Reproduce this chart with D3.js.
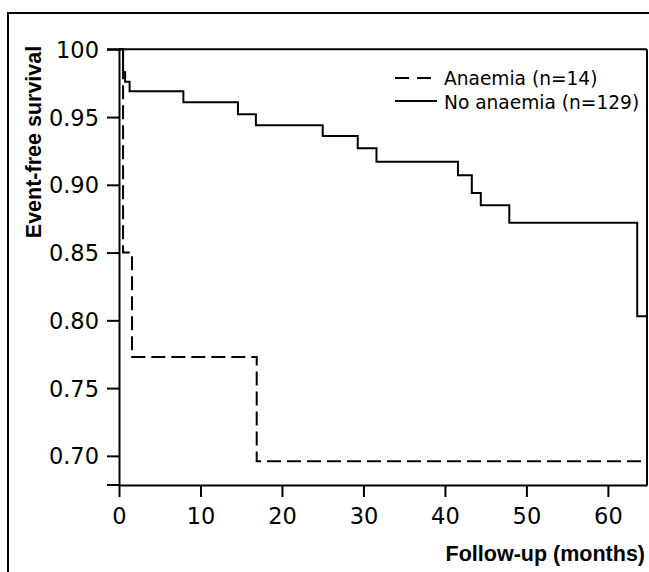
<!DOCTYPE html>
<html>
<head>
    <meta charset="utf-8">
    <title>Event-free survival</title>
    <style>
        body { margin: 0; background: #fff; }
        .tick text { font-family: "DejaVu Sans", sans-serif; font-size: 22.5px; fill: #000; }
        .legend text { font-family: "DejaVu Sans", sans-serif; font-size: 18.6px; fill: #000; }
        .title { font-family: "Liberation Sans", Arial, sans-serif; font-weight: bold; font-size: 21.5px; fill: #000; }
    </style>
</head>
<body>
<script src="https://cdnjs.cloudflare.com/ajax/libs/d3/7.8.5/d3.min.js"></script>
<script>
    // Kaplan-Meier steps (months, survival)
    const anaemiaTimes = [0, 0.5, 1.6, 16.9];
    const anaemiaSurv = [1.0, 0.850, 0.773, 0.696];
    const noAnaemiaTimes = [0, 0.5, 0.75, 1.3, 7.9, 14.6, 16.8, 25.0, 29.3, 31.6, 41.6, 43.3, 44.4, 47.9, 63.6];
    const noAnaemiaSurv = [1.0, 0.983, 0.976, 0.969, 0.961, 0.952, 0.944, 0.936, 0.927, 0.917, 0.907, 0.894, 0.885, 0.872, 0.803];
    const xTicks = [0, 10, 20, 30, 40, 50, 60];
    const yTicks = [0.70, 0.75, 0.80, 0.85, 0.90, 0.95, 1.00];
    const seriesNames = ["Anaemia (n=14)", "No anaemia (n=129)"];

    const W = 649, H = 572;
    const plotLeft = 119, plotRight = 647, plotTop = 49.3, plotBottom = 485;
    const xMax = 64.8;

    const svg = d3.select("body").append("svg")
        .attr("width", W)
        .attr("height", H);

    // outer frame
    svg.append("rect")
        .attr("x", 8).attr("y", 13)
        .attr("width", W + 10).attr("height", H + 10)
        .attr("fill", "none").attr("stroke", "#000").attr("stroke-width", 2);

    const x = d3.scaleLinear().domain([0, xMax]).range([plotLeft, plotRight]);
    const y = d3.scaleLinear().domain([0.6785, 1.0]).range([plotBottom, plotTop]);

    // y axis
    const yAxis = svg.append("g")
        .attr("transform", `translate(${plotLeft},0)`)
        .call(d3.axisLeft(y).tickValues(yTicks)
            .tickFormat(d => d === 1 ? "100" : d3.format(".2f")(d))
            .tickSize(12).tickPadding(8).tickSizeOuter(0));
    yAxis.selectAll("line, path").attr("stroke", "#000").attr("stroke-width", 2);
    yAxis.selectAll("text").attr("dy", "0.36em");

    // x axis
    const xAxis = svg.append("g")
        .attr("transform", `translate(0,${plotBottom})`)
        .call(d3.axisBottom(x).tickValues(xTicks)
            .tickSize(12).tickPadding(11).tickSizeOuter(0));
    xAxis.selectAll("line, path").attr("stroke", "#000").attr("stroke-width", 2);

    // plot frame: top, right, and extension of bottom to the left
    const frame = svg.append("g").attr("stroke", "#000").attr("stroke-width", 2);
    frame.append("line").attr("x1", plotLeft - 12).attr("x2", plotRight).attr("y1", plotTop).attr("y2", plotTop);
    frame.append("line").attr("x1", plotRight).attr("x2", plotRight).attr("y1", plotTop).attr("y2", plotBottom);
    frame.append("line").attr("x1", plotLeft - 12).attr("x2", plotLeft).attr("y1", plotBottom).attr("y2", plotBottom);

    // curves
    const line = d3.line()
        .x(d => x(d[0]))
        .y(d => y(d[1]))
        .curve(d3.curveStepAfter);

    const toPoints = (t, s) => {
        const pts = t.map((v, i) => [v, s[i]]);
        pts.push([xMax, s[s.length - 1]]);
        return pts;
    };

    svg.append("path")
        .datum(toPoints(noAnaemiaTimes, noAnaemiaSurv))
        .attr("d", line)
        .attr("fill", "none").attr("stroke", "#000").attr("stroke-width", 2);

    svg.append("path")
        .datum(toPoints(anaemiaTimes, anaemiaSurv))
        .attr("d", line)
        .attr("fill", "none").attr("stroke", "#000").attr("stroke-width", 2)
        .attr("stroke-dasharray", "14,6");

    // legend
    const legend = svg.append("g").attr("class", "legend");
    legend.append("line")
        .attr("x1", 395).attr("x2", 434).attr("y1", 78).attr("y2", 78)
        .attr("stroke", "#000").attr("stroke-width", 2).attr("stroke-dasharray", "14,8");
    legend.append("text").attr("x", 444).attr("y", 85).text(seriesNames[0]);
    legend.append("line")
        .attr("x1", 395).attr("x2", 437).attr("y1", 101).attr("y2", 101)
        .attr("stroke", "#000").attr("stroke-width", 2);
    legend.append("text").attr("x", 444).attr("y", 109).text(seriesNames[1]);

    // axis titles
    svg.append("text")
        .attr("class", "title")
        .attr("transform", "translate(41,142) rotate(-90)")
        .attr("text-anchor", "middle")
        .text("Event-free survival");

    svg.append("text")
        .attr("class", "title")
        .attr("x", 645).attr("y", 561)
        .attr("text-anchor", "end")
        .text("Follow-up (months)");
</script>
</body>
</html>
